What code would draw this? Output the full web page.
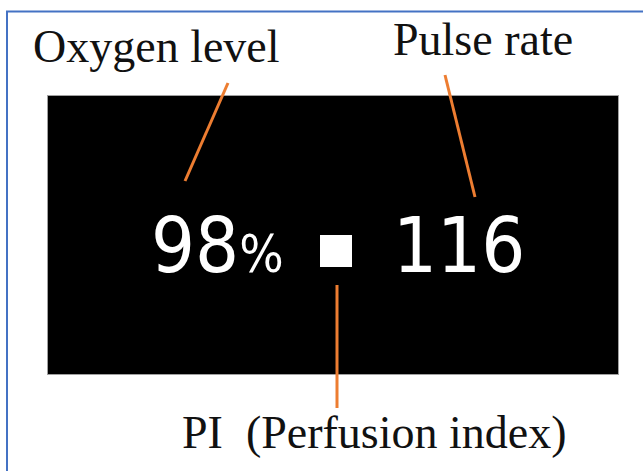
<!DOCTYPE html>
<html>
<head>
<meta charset="utf-8">
<script src="https://cdn.jsdelivr.net/npm/d3@7"></script>
<style>
	html, body { margin: 0; padding: 0; background: #fff; }
	svg { display: block; }
</style>
</head>
<body>
<div id="graph-container"></div>
<script>
// callout labels and the readings shown on the display
const labels = ["Oxygen level", "Pulse rate", "PI \u00a0(Perfusion index)"];
const oxygenReading = ["98", "%"];
const pulseReading = ["116"];

document.addEventListener("DOMContentLoaded", function () {
	builder();
});

function builder() {
	const w = 643;
	const h = 471;
	const orange = "#ed7d31";
	const blue = "#4472c4";

	const svg = d3
		.select("#graph-container")
		.append("svg")
		.attr("width", w)
		.attr("height", h)
		.attr("viewBox", `0 0 ${w} ${h}`);

	// blue frame (top and left edges only are in view)
	svg.append("path")
		.attr("d", `M7,${h} L7,11.5 L${w},11.5`)
		.attr("fill", "none")
		.attr("stroke", blue)
		.attr("stroke-width", 2);

	// black display
	svg.append("rect")
		.attr("x", 47.5)
		.attr("y", 95.5)
		.attr("width", 571)
		.attr("height", 279)
		.attr("fill", "#000")
		.attr("stroke", "#a0a0a0")
		.attr("stroke-width", 1);

	// leader lines from label to reading
	const leaders = [
		[[228, 83], [185, 181]],
		[[445, 75], [475, 197]],
		[[337, 285], [337, 408]]
	];
	svg.selectAll("line.leader")
		.data(leaders)
		.enter()
		.append("line")
		.attr("class", "leader")
		.attr("x1", (d) => d[0][0])
		.attr("y1", (d) => d[0][1])
		.attr("x2", (d) => d[1][0])
		.attr("y2", (d) => d[1][1])
		.attr("stroke", orange)
		.attr("stroke-width", 3);

	// labels in serif
	const labelPos = [
		[33, 62],
		[393, 55],
		[182, 448]
	];
	svg.selectAll("text.label")
		.data(labels)
		.enter()
		.append("text")
		.attr("class", "label")
		.attr("x", (d, i) => labelPos[i][0])
		.attr("y", (d, i) => labelPos[i][1])
		.attr("font-family", "Liberation Serif")
		.attr("font-size", 46)
		.attr("fill", "#111")
		.text((d) => d);

	// readings
	const num = svg.append("text")
		.attr("font-family", "DejaVu Sans Condensed")
		.attr("x", 151)
		.attr("y", 272)
		.attr("fill", "#fff");
	num.append("tspan")
		.attr("font-size", 77)
		.text(oxygenReading[0]);
	num.append("tspan")
		.attr("font-size", 52)
		.text(oxygenReading[1]);

	svg.append("rect")
		.attr("x", 320)
		.attr("y", 235)
		.attr("width", 32)
		.attr("height", 32)
		.attr("fill", "#fff");

	svg.append("text")
		.attr("font-family", "DejaVu Sans Condensed")
		.attr("x", 393)
		.attr("y", 272)
		.attr("font-size", 77)
		.attr("fill", "#fff")
		.text(pulseReading[0]);
}
</script>
</body>
</html>
